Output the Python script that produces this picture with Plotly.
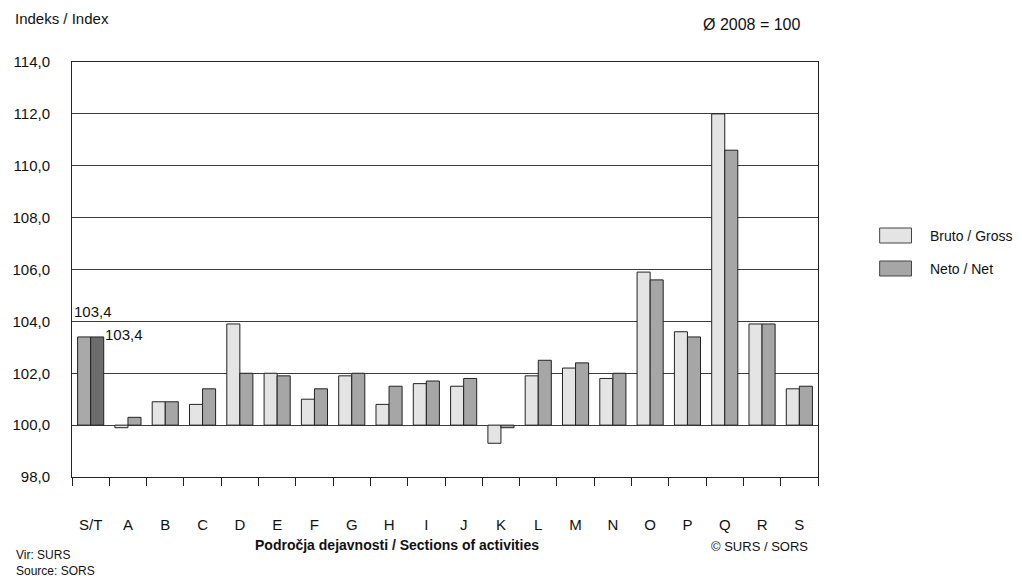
import plotly.graph_objects as go

categories = ["S/T", "A", "B", "C", "D", "E", "F", "G", "H", "I", "J", "K", "L", "M", "N", "O", "P", "Q", "R", "S"]
gross = [103.4, 99.9, 100.9, 100.8, 103.9, 102.0, 101.0, 101.9, 100.8, 101.6, 101.5, 99.3, 101.9, 102.2, 101.8, 105.9, 103.6, 112.0, 103.9, 101.4]
net = [103.4, 100.3, 100.9, 101.4, 102.0, 101.9, 101.4, 102.0, 101.5, 101.7, 101.8, 99.9, 102.5, 102.4, 102.0, 105.6, 103.4, 110.6, 103.9, 101.5]
base_value = 100
y_ticks = [98, 100, 102, 104, 106, 108, 110, 112, 114]
y_tick_labels = ["98,0", "100,0", "102,0", "104,0", "106,0", "108,0", "110,0", "112,0", "114,0"]
series_names = ["Bruto / Gross", "Neto / Net"]
series_colors = ["#e4e4e4", "#a6a6a6"]
total_colors = ["#a9a9a9", "#6c6c6c"]

FONT = "Liberation Sans, Arial, sans-serif"
line = dict(color="#222222", width=1)

L, R, T, B, W, H = 68, 204, 62, 105, 1022, 582
PW, PH = W - L - R, H - T - B


def px(x):
    return (x - L) / PW


def py(y):
    return (H - B - y) / PH


fig = go.Figure()
for i, vals in enumerate([gross, net]):
    og = "g" if i == 0 else "n"
    fig.add_bar(x=categories[:1], y=[v - base_value for v in vals[:1]], base=[base_value],
                offsetgroup=og, marker=dict(color=total_colors[i], line=line), showlegend=False,
                name=series_names[i])
    fig.add_bar(x=categories[1:], y=[v - base_value for v in vals[1:]],
                base=[base_value] * (len(categories) - 1),
                offsetgroup=og, marker=dict(color=series_colors[i], line=line), showlegend=False,
                name=series_names[i])

fig.update_layout(
    width=W, height=H,
    margin=dict(l=L, r=R, t=T, b=B),
    paper_bgcolor="white", plot_bgcolor="white",
    font=dict(family=FONT, size=14, color="#111111"),
    barmode="group", bargap=0.3, bargroupgap=0,
    showlegend=False,
)
fig.update_xaxes(
    categoryorder="array", categoryarray=categories, range=[-0.5, len(categories) - 0.5],
    showline=True, linecolor="#222222", linewidth=1, mirror=True,
    ticks="outside", tickson="boundaries", ticklen=8, tickcolor="#222222",
    ticklabelstandoff=34, tickfont=dict(size=15),
    showgrid=False,
)
fig.update_yaxes(
    range=[98, 114], tickvals=y_ticks, ticktext=y_tick_labels,
    showline=True, linecolor="#222222", linewidth=1, mirror=True,
    showgrid=True, gridcolor="#3c3c3c", gridwidth=1, zeroline=False,
    ticks="", ticklabelstandoff=18, tickfont=dict(size=15),
)

# custom legend (larger swatches as in the reference)
for i, (name, col) in enumerate(zip(series_names, series_colors)):
    y0 = 228 + i * 33
    fig.add_shape(type="rect", xref="paper", yref="paper",
                  x0=px(880), x1=px(912), y0=py(y0), y1=py(y0 + 15),
                  fillcolor=col, line=dict(color="#444444", width=1))
    fig.add_annotation(text=name, xref="paper", yref="paper", x=px(929), y=py(y0 + 7.5),
                       xanchor="left", yanchor="middle", showarrow=False, font=dict(size=14))

ann = [
    dict(text="Indeks / Index", x=9, y=19, size=15),
    dict(text="Ø 2008 = 100", x=700, y=24, size=16),
    dict(text="Vir: SURS<br>Source: SORS", x=10, y=563, size=12),
    dict(text="© SURS / SORS", x=708, y=546, size=13),
]
for a in ann:
    fig.add_annotation(text=a["text"], xref="paper", yref="paper",
                       x=px(a["x"]), y=py(a["y"]),
                       xanchor="left", yanchor="middle", align="left", showarrow=False,
                       font=dict(size=a["size"]))
fig.add_annotation(text="<b>Področja dejavnosti / Sections of activities</b>", xref="paper", yref="paper",
                   x=px(395), y=py(545), xanchor="center", yanchor="middle",
                   showarrow=False, font=dict(size=14))

# value labels for S/T
fig.add_annotation(text=f"{gross[0]:.1f}".replace(".", ","), x=categories[0], y=gross[0], xshift=2,
                   yshift=25, showarrow=False, font=dict(size=15))
fig.add_annotation(text=f"{net[0]:.1f}".replace(".", ","), x=categories[0], y=net[0], xshift=33,
                   yshift=2, showarrow=False, font=dict(size=15))

fig.write_html("out.html", config={"displayModeBar": False},
               post_script="document.body.style.margin='0';document.body.style.overflow='hidden';")
